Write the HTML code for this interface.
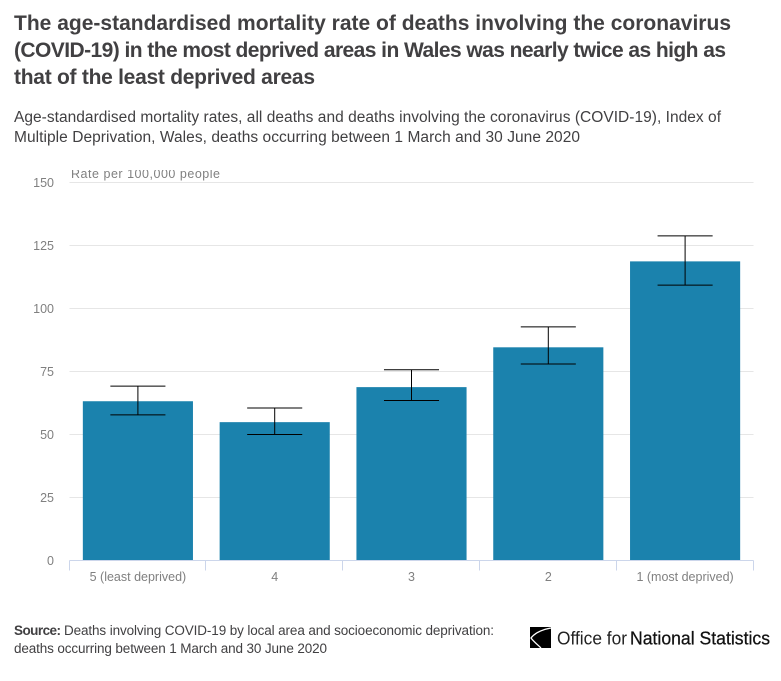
<!DOCTYPE html>
<html lang="en">
<head>
<meta charset="utf-8">
<title>Age-standardised mortality rates, Wales</title>
<style>
html,body{margin:0;padding:0;background:#fff;width:781px;height:681px;overflow:hidden}
svg{display:block;font-family:"Liberation Sans",sans-serif}
</style>
</head>
<body>
<svg id="chart" xmlns="http://www.w3.org/2000/svg" width="781" height="681" viewBox="0 0 781 681">
  <defs>
    <clipPath id="axis-title-clip"><rect x="60" y="170" width="200" height="20"/></clipPath>
  </defs>
  <rect width="781" height="681" fill="#fff"/>
  <g fill="#414042" font-size="21" font-weight="700">
    <text x="14" y="30" textLength="717" lengthAdjust="spacing">The age-standardised mortality rate of deaths involving the coronavirus</text>
    <text x="14" y="57" textLength="712" lengthAdjust="spacing">(COVID-19) in the most deprived areas in Wales was nearly twice as high as</text>
    <text x="14" y="84" textLength="301" lengthAdjust="spacing">that of the least deprived areas</text>
  </g>
  <g fill="#414042" font-size="15.5">
    <text x="14" y="122" textLength="707" lengthAdjust="spacing">Age-standardised mortality rates, all deaths and deaths involving the coronavirus (COVID-19), Index of</text>
    <text x="14" y="142" textLength="566" lengthAdjust="spacing">Multiple Deprivation, Wales, deaths occurring between 1 March and 30 June 2020</text>
  </g>
  <g id="plot"></g>
  <text x="71" y="178" clip-path="url(#axis-title-clip)" fill="#808080" font-size="12.5" textLength="149" lengthAdjust="spacing">Rate per 100,000 people</text>
  <g fill="#414042" font-size="13.5">
    <text x="14" y="635" font-weight="700" textLength="47" lengthAdjust="spacing">Source:</text>
    <text x="64" y="635" textLength="430" lengthAdjust="spacing">Deaths involving COVID-19 by local area and socioeconomic deprivation:</text>
    <text x="14" y="653" textLength="313" lengthAdjust="spacing">deaths occurring between 1 March and 30 June 2020</text>
  </g>
  <g>
    <rect x="530" y="627" width="21" height="21" fill="#000"/>
    <path d="M551 628 C540 630 534 634 531 638 C534 642 538 645 541 648" fill="none" stroke="#fff" stroke-width="1.3"/>
    <text x="557" y="644.5" fill="#222" font-size="18" textLength="70" lengthAdjust="spacingAndGlyphs">Office for</text>
    <text x="630" y="644.5" fill="#111" font-size="18" textLength="140" lengthAdjust="spacingAndGlyphs" stroke="#111" stroke-width="0.25">National Statistics</text>
  </g>
  <script>
    var categories = ["5 (least deprived)", "4", "3", "2", "1 (most deprived)"];
    var rateValues = [63.2, 54.9, 68.8, 84.6, 118.7];
    var lowerBounds = [57.8, 50.0, 63.5, 78.0, 109.3];
    var upperBounds = [69.2, 60.5, 75.7, 92.7, 128.8];
    var yTicks = [0, 25, 50, 75, 100, 125, 150];

    var SVG_NS = 'http://www.w3.org/2000/svg';
    var plot = document.getElementById('plot');
    var left = 69.5, right = 753.5, baseY = 560.5, topY = 182.5, yMax = 150;
    var band = (right - left) / categories.length;
    var barWidth = band * 0.805;
    var whiskerWidth = barWidth / 2;

    function yScale(v) { return baseY - (v / yMax) * (baseY - topY); }
    function xCenter(i) { return left + band * (i + 0.5); }
    function make(tag, attrs) {
      var el = document.createElementNS(SVG_NS, tag);
      for (var k in attrs) { el.setAttribute(k, attrs[k]); }
      plot.appendChild(el);
      return el;
    }

    yTicks.forEach(function (t) {
      if (t !== 0) {
        var grid = make('line', { x1: left, x2: right, y1: yScale(t), y2: yScale(t), stroke: '#e6e6e6', 'stroke-width': 1 });
        
        
      }
      var label = make('text', { x: 54, y: yScale(t) + 4.5, 'text-anchor': 'end', fill: '#808080', 'font-size': 12.5 });
      label.textContent = String(t);
      
      
    });

    categories.forEach(function (c, i) {
      var cx = xCenter(i);
      var bar = make('rect', { x: cx - barWidth / 2, y: yScale(rateValues[i]), width: barWidth, height: baseY - yScale(rateValues[i]), fill: '#1b82ad' });
      
      

      var stem = make('line', { x1: cx, x2: cx, y1: yScale(upperBounds[i]), y2: yScale(lowerBounds[i]), stroke: '#000', 'stroke-width': 1 });
      
      

      var capTop = make('line', { x1: cx - whiskerWidth / 2, x2: cx + whiskerWidth / 2, y1: yScale(upperBounds[i]), y2: yScale(upperBounds[i]), stroke: '#000', 'stroke-width': 1 });
      
      

      var capLow = make('line', { x1: cx - whiskerWidth / 2, x2: cx + whiskerWidth / 2, y1: yScale(lowerBounds[i]), y2: yScale(lowerBounds[i]), stroke: '#000', 'stroke-width': 1 });
      
      

      var lab = make('text', { x: cx, y: 581, 'text-anchor': 'middle', fill: '#808080', 'font-size': 12.5 });
      lab.textContent = c;
      
      
    });

    var axis = make('line', { x1: left, x2: right, y1: baseY, y2: baseY, stroke: '#ccd6eb', 'stroke-width': 1 });
    
    

    for (var i = 0; i <= categories.length; i++) {
      var tx = Math.round(left + band * i) - 0.5;
      var tick = make('line', { x1: tx, x2: tx, y1: baseY, y2: baseY + 10, stroke: '#ccd6eb', 'stroke-width': 1 });
      
      
    }
  </script>
</svg>
</body>
</html>
